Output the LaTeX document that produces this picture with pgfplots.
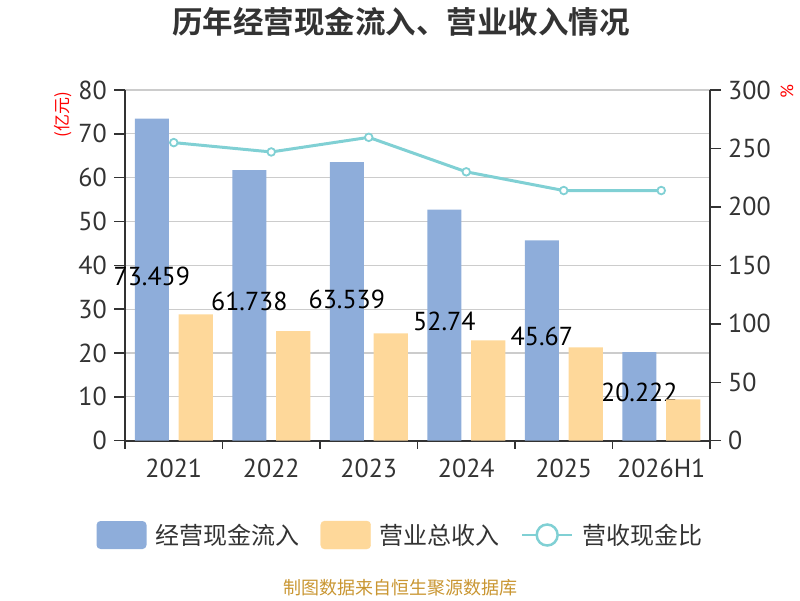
\documentclass[border=0pt]{standalone}
\usepackage{pgfplots}
\usepackage{pgfplotstable}
\pgfplotsset{compat=1.18}
\usepackage{fontspec}
\setmainfont{PT Sans}
\newfontfamily\cjk{Noto Sans CJK SC}[BoldFont={Noto Sans CJK SC Bold}]
\definecolor{blueC}{RGB}{142,173,218}
\definecolor{orangeC}{RGB}{254,216,154}
\definecolor{lineC}{RGB}{128,208,212}
\definecolor{gridC}{RGB}{204,204,204}
\definecolor{axisC}{RGB}{51,51,51}
\definecolor{textC}{RGB}{51,51,51}
\definecolor{goldC}{RGB}{201,150,50}

\pgfplotstableread{
x v
0 73.459
1 61.738
2 63.539
3 52.74
4 45.67
5 20.222
}\cash
\pgfplotstableread{
x v
0 28.8
1 25.0
2 24.5
3 22.9
4 21.3
5 9.45
}\rev
\pgfplotstableread{
x r
0 255.0
1 247.0
2 259.5
3 230.0
4 214.0
5 214.0
}\ratio
\pgfplotstableread{
x y lab
0 37.4 73.459
1 31.7 61.738
2 32.3 63.539
3 27.2 52.74
4 23.7 45.67
5 11.0 20.222
}\labs

\pgfplotsset{
  base/.style={
    scale only axis, width=585pt, height=350.7pt,
    at={(125pt,159.3pt)}, anchor=south west,
    xmin=-0.5, xmax=5.5,
    tick align=outside,
    axis line style={-, draw=axisC, line width=1.8pt},
    tick style={draw=axisC, line width=1.5pt},
    tick label style={font=\fontsize{26}{30}\selectfont, text=textC, inner sep=0pt},
    /pgf/number format/assume math mode=true,
    major tick length=11pt,
  }
}

\begin{document}
\begin{tikzpicture}
\useasboundingbox (0,0) rectangle (800pt,600pt);
\begin{axis}[base,
  ymin=0, ymax=80, ytick={0,10,...,80},
  axis x line*=bottom, axis y line*=left,
  yticklabel style={xshift=-7pt},
  xticklabel style={yshift=-7pt},
  ymajorgrids, grid style={draw=gridC, line width=1.2pt},
  xtick={0,...,5}, xticklabels={2021,2022,2023,2024,2025,2026H1},
  xtick style={draw=none},
  extra x ticks={-0.5,0.5,1.5,2.5,3.5,4.5,5.5},
  extra x tick labels={},
  extra x tick style={xtick style={draw=axisC, line width=1.5pt}, major tick length=8pt},
  legend columns=3,
  legend style={at={(0.4692,-0.2689)}, anchor=center, draw=none, fill=none,
    font=\cjk\fontsize{24}{28}\selectfont, text=textC,
    nodes={inner sep=0pt},
    /tikz/every odd column/.append style={column sep=9pt},
    /tikz/every even column/.append style={column sep=21pt}},
]
\addplot[ybar, bar width=0.35, bar shift=0pt, fill=blueC, draw=none,
  legend image code/.code={\fill[blueC, rounded corners=4pt] (0pt,-14pt) rectangle (50pt,14pt);}]
  table[x expr=\thisrow{x}-0.225, y=v]{\cash};
\addlegendentry{经营现金流入}
\addplot[forget plot, only marks, mark=none, point meta=explicit symbolic,
  nodes near coords, nodes near coords align={center},
  every node near coord/.append style={anchor=center, text=black, inner sep=0pt, font=\fontsize{26}{30}\selectfont}]
  table[x expr=\thisrow{x}-0.225, y=y, meta=lab]{\labs};
\addlegendimage{legend image code/.code={\fill[orangeC, rounded corners=4pt] (0pt,-14pt) rectangle (50pt,14pt);}}
\addlegendentry{营业总收入}
\addlegendimage{legend image code/.code={
  \draw[lineC, line width=2.5pt] (0pt,0pt) -- (50pt,0pt);
  \draw[lineC, line width=2.5pt, fill=white] (25pt,0pt) circle (10.5pt);}}
\addlegendentry{营收现金比}
\end{axis}
\begin{axis}[base, hide axis, ymin=0, ymax=80]
\addplot[ybar, bar width=0.35, bar shift=0pt, fill=orangeC, draw=none]
  table[x expr=\thisrow{x}+0.225, y=v]{\rev};
\end{axis}
\begin{axis}[base,
  ymin=0, ymax=300, ytick={0,50,...,300},
  yticklabel style={xshift=7pt},
  axis y line*=right, axis x line=none,
]
\addplot[lineC, line width=3pt, mark=*, mark size=3.8pt,
  mark options={fill=white, draw=lineC, line width=1.8pt}]
  table[x=x, y=r]{\ratio};
\end{axis}
\node[rotate=90, text=red, font=\cjk\fontsize{17}{20}\selectfont] at (63pt,485pt) {(亿元)};
\node[rotate=90, text=red, font=\fontsize{18}{20}\selectfont] at (787pt,508pt) {\%};
\node[font=\cjk\bfseries\fontsize{30.5}{36}\selectfont, text=textC] at (400.8pt,578pt) {历年经营现金流入、营业收入情况};
\node[font=\cjk\fontsize{18}{22}\selectfont, text=goldC] at (400.5pt,12pt) {制图数据来自恒生聚源数据库};
\end{tikzpicture}
\end{document}
